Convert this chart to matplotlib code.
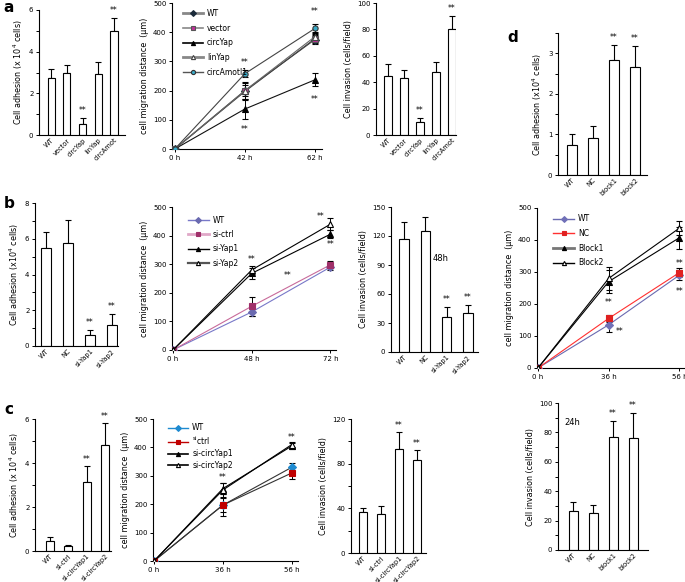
import matplotlib
matplotlib.use("Agg")
import matplotlib.pyplot as plt
import numpy as np

W, H = 685, 582

# ---- panel a ----
a_adh_groups = ["WT", "vector", "circYap", "linYap", "circAmot"]
a_adh_vals = [2.75, 3.0, 0.55, 2.95, 5.0]
a_adh_err = [0.4, 0.35, 0.28, 0.55, 0.62]
a_adh_sig = [2, 4]

a_mig_time = ["0 h", "42 h", "62 h"]
a_mig_names = ["WT", "vector", "circYap", "linYap", "circAmotl1"]
a_mig_vals = [[0, 200, 375], [0, 197, 378], [0, 137, 237], [0, 200, 385], [0, 258, 413]]
a_mig_err = [[0, 30, 15], [0, 30, 15], [0, 33, 22], [0, 20, 15], [0, 12, 15]]
a_mig_stars = [(1, 295), (1, 68), (2, 472), (2, 168)]

a_inv_groups = ["WT", "vector", "circYap", "linYap", "circAmot"]
a_inv_vals = [45, 43.5, 10, 47.5, 80]
a_inv_err = [8.5, 5.5, 3, 8, 10.5]
a_inv_sig = [2, 4]

# ---- panel b ----
b_adh_groups = ["WT", "NC", "si-Yap1", "si-Yap2"]
b_adh_vals = [5.5, 5.75, 0.6, 1.2]
b_adh_err = [0.85, 1.3, 0.3, 0.6]
b_adh_sig = [2, 3]

b_mig_time = ["0 h", "48 h", "72 h"]
b_mig_names = ["WT", "si-ctrl", "si-Yap1", "si-Yap2"]
b_mig_vals = [[0, 133, 290], [0, 153, 298], [0, 268, 405], [0, 280, 440]]
b_mig_err = [[0, 15, 12], [0, 33, 12], [0, 20, 15], [0, 15, 20]]
b_mig_stars = [(1, 318), (1.45, 262), (1.88, 468), (2.0, 368)]

b_inv_groups = ["WT", "NC", "si-Yap1", "si-Yap2"]
b_inv_vals = [117, 125, 36, 40]
b_inv_err = [17, 15, 11, 9]
b_inv_sig = [2, 3]

# ---- panel c ----
c_adh_groups = ["WT", "si-ctrl", "si-circYap1", "si-circYap2"]
c_adh_vals = [0.45, 0.22, 3.15, 4.8]
c_adh_err = [0.17, 0.06, 0.7, 1.0]
c_adh_sig = [2, 3]

c_mig_time = ["0 h", "36 h", "56 h"]
c_mig_names = ["WT", "$^{\\mathregular{si}}$ctrl", "si-circYap1", "si-circYap2"]
c_mig_vals = [[0, 197, 330], [0, 197, 310], [0, 255, 405], [0, 250, 410]]
c_mig_err = [[0, 25, 15], [0, 40, 22], [0, 20, 10], [0, 25, 10]]
c_mig_stars = [(1, 295), (2, 435)]

c_inv_groups = ["WT", "si-ctrl", "si-circYap1", "si-circYap2"]
c_inv_vals = [37, 35, 93, 83]
c_inv_err = [3, 7, 15, 9]
c_inv_sig = [2, 3]

# ---- panel d ----
d_adh_groups = ["WT", "NC", "block1", "block2"]
d_adh_vals = [0.75, 0.92, 2.83, 2.67]
d_adh_err = [0.26, 0.28, 0.38, 0.52]
d_adh_sig = [2, 3]

d_mig_time = ["0 h", "36 h", "56 h"]
d_mig_names = ["WT", "NC", "Block1", "Block2"]
d_mig_vals = [[0, 135, 290], [0, 155, 298], [0, 270, 407], [0, 280, 437]]
d_mig_err = [[0, 22, 15], [0, 12, 15], [0, 35, 35], [0, 35, 22]]
d_mig_stars = [(1, 205), (1.15, 115), (2, 328), (2, 240)]

d_inv_groups = ["WT", "NC", "block1", "block2"]
d_inv_vals = [26.5, 25, 77, 76.5]
d_inv_err = [6, 5.5, 11, 16.5]
d_inv_sig = [2, 3]

# line styles: (line colour, marker, face colour, edge colour, legend line colour, legend lw)
a_styles = [("#444444", "D", "#1a2a3a", "#1a2a3a", "#888888", 2.0),
            ("#444444", "s", "#c0309a", "#555555", "#888888", 1.2),
            ("#111111", "^", "k", "k", "k", 1.2),
            ("#666666", "^", "white", "#444444", "#888888", 2.0),
            ("#444444", "o", "#3aaac8", "#333333", "#555555", 1.0)]
b_styles = [("#7878c8", "D", "#6a6ab0", "#6a6ab0", "#7878c8", 1.0),
            ("#c86a9a", "s", "#a0306a", "#a0306a", "#e0a8c8", 2.0),
            ("k", "^", "k", "k", "k", 1.0),
            ("k", "^", "white", "k", "#555555", 1.6)]
c_styles = [("#333333", "D", "#1e8ad0", "#1e8ad0", "#1e8ad0", 1.0),
            ("#333333", "s", "#c00000", "#c00000", "#c00000", 1.0),
            ("k", "^", "k", "k", "k", 1.2),
            ("k", "^", "white", "k", "k", 1.2)]
d_styles = [("#6a6ab0", "D", "#7070b8", "#7070b8", "#6a6ab0", 1.0),
            ("#ff3030", "s", "#e02020", "#e02020", "#ff3030", 1.0),
            ("k", "^", "k", "k", "#777777", 2.0),
            ("k", "^", "white", "k", "k", 1.0)]

fs_tick = 5
fs_lab = 5.8

fig = plt.figure(figsize=(W / 100, H / 100), dpi=100)


def add_ax(x0, y0, x1, y1):
    return fig.add_axes([x0 / W, 1 - y1 / H, (x1 - x0) / W, (y1 - y0) / H])


def style(ax):
    for s in ["top", "right"]:
        ax.spines[s].set_visible(False)
    for s in ["left", "bottom"]:
        ax.spines[s].set_linewidth(0.8)
    ax.tick_params(labelsize=fs_tick, width=0.7, length=2.5, pad=1.5)
    ax.tick_params(which="minor", width=0.7, length=2.5)


def bar_panel(rect, groups, vals, err, sig, ylim, yticks, minor, xlim, ylabel, w=0.45):
    ax = add_ax(*rect)
    x = np.arange(len(groups))
    ax.bar(x, vals, width=w, color="white", edgecolor="k", linewidth=0.8, zorder=2)
    ax.errorbar(x, vals, yerr=[np.zeros(len(err)), err], fmt="none", ecolor="k",
                elinewidth=0.8, capsize=2.2, capthick=0.8, zorder=1)
    for i in sig:
        ax.text(x[i], vals[i] + err[i] + ylim[1] * 0.02, "**", ha="center", va="bottom",
                fontsize=5.5)
    ax.set_xlim(*xlim)
    ax.set_ylim(*ylim)
    ax.set_yticks(yticks)
    if minor is not None:
        ax.set_yticks(minor, minor=True)
    ax.set_xticks(x)
    ax.set_xticklabels(groups, rotation=45, ha="right", rotation_mode="anchor")
    style(ax)
    ax.tick_params(axis="x", length=0, pad=1.5, labelsize=4.8)
    ax.set_ylabel(ylabel, fontsize=fs_lab, labelpad=3)
    return ax


def line_panel(rect, times, names, vals, err, styles, stars, xlim, legend_anchor,
               spacing=0.5, ms=3.8):
    ax = add_ax(*rect)
    x = np.arange(len(times))
    handles = []
    for v, e, st in zip(vals, err, styles):
        lc, mk, fc, ec, llc, llw = st
        ax.errorbar(x, v, yerr=e, fmt="-", color=lc, lw=0.8, marker=mk, ms=ms,
                    mfc=fc, mec=ec, mew=0.8, ecolor="k", elinewidth=0.7,
                    capsize=2.5, capthick=0.7, zorder=3)
        h, = ax.plot([], [], color=llc, lw=llw, marker=mk, ms=ms - 0.8, mfc=fc, mec=ec,
                     mew=0.8)
        handles.append(h)
    for sx, sy in stars:
        ax.text(sx, sy, "**", ha="center", va="center", fontsize=5.5)
    ax.set_xlim(*xlim)
    ax.set_ylim(0, 500)
    ax.set_yticks(range(0, 501, 100))
    ax.set_xticks(x)
    ax.set_xticklabels(times)
    style(ax)
    ax.set_ylabel("cell migration distance  (\u03bcm)", fontsize=fs_lab, labelpad=3)
    ax.legend(handles, names, loc="upper left", bbox_to_anchor=legend_anchor,
              frameon=False, fontsize=5.5, handlelength=2.7, labelspacing=spacing,
              borderaxespad=0, handletextpad=0.5)
    return ax


adh_a = "Cell adhesion (x 10$^4$ cells)"
adh_b = "Cell adhesion (x10$^4$ cells)"
inv_lab = "Cell invasion (cells/field)"

# panel a
bar_panel((39, 10, 125, 135), a_adh_groups, a_adh_vals, a_adh_err, a_adh_sig,
          (0, 6), [0, 2, 4, 6], [1, 3, 5], (-0.77, 4.7), adh_a)
line_panel((172, 3, 322, 149), a_mig_time, a_mig_names, a_mig_vals, a_mig_err,
           a_styles, a_mig_stars, (-0.04, 2.1), (0.05, 0.98), spacing=0.75)
bar_panel((376, 3, 456, 135), a_inv_groups, a_inv_vals, a_inv_err, a_inv_sig,
          (0, 100), range(0, 101, 20), None, (-0.75, 4.25), inv_lab)

# panel b
bar_panel((35, 203, 118, 346), b_adh_groups, b_adh_vals, b_adh_err, b_adh_sig,
          (0, 8), [0, 2, 4, 6, 8], [1, 3, 5, 7], (-0.5, 3.27), adh_b)
line_panel((172, 207, 336, 350), b_mig_time, b_mig_names, b_mig_vals, b_mig_err,
           b_styles, b_mig_stars, (-0.013, 2.07), (0.08, 0.96), spacing=0.7)
ax_binv = bar_panel((391, 207, 478, 352), b_inv_groups, b_inv_vals, b_inv_err, b_inv_sig,
                    (0, 150), range(0, 151, 30), None, (-0.61, 3.47), inv_lab)
ax_binv.text(1.35, 97, "48h", fontsize=6, va="center", ha="left")

# panel c
bar_panel((35, 419, 111, 551), c_adh_groups, c_adh_vals, c_adh_err, c_adh_sig,
          (0, 6), [0, 2, 4, 6], [1, 3, 5], (-0.82, 3.33), adh_a)
line_panel((153, 419, 298, 561), c_mig_time, c_mig_names, c_mig_vals, c_mig_err,
           c_styles, c_mig_stars, (-0.015, 2.09), (0.08, 0.99), spacing=0.3)
bar_panel((351, 419, 426, 553), c_inv_groups, c_inv_vals, c_inv_err, c_inv_sig,
          (0, 120), [0, 40, 80, 120], [20, 60, 100], (-0.67, 3.5), inv_lab)

# panel d
bar_panel((558, 33, 647, 175), d_adh_groups, d_adh_vals, d_adh_err, d_adh_sig,
          (0, 3.5), [0, 1, 2, 3], [0.5, 1.5, 2.5, 3.5], (-0.67, 3.57), adh_b)
line_panel((537, 208, 685, 368), d_mig_time, d_mig_names, d_mig_vals, d_mig_err,
           d_styles, d_mig_stars, (-0.014, 2.08), (0.09, 0.98), spacing=0.75)
ax_dinv = bar_panel((558, 403, 648, 550), d_inv_groups, d_inv_vals, d_inv_err, d_inv_sig,
                    (0, 100), range(0, 101, 20), range(10, 100, 20), (-0.75, 3.75), inv_lab)
ax_dinv.text(-0.45, 87, "24h", fontsize=6, va="center", ha="left")

# panel letters
for lx, ly, s in [(3, 8, "a"), (4, 203, "b"), (4, 409, "c"), (507, 38, "d")]:
    fig.text(lx / W, 1 - ly / H, s, fontsize=11, fontweight="bold", va="center", ha="left")

fig.savefig("out.png", dpi=100)
